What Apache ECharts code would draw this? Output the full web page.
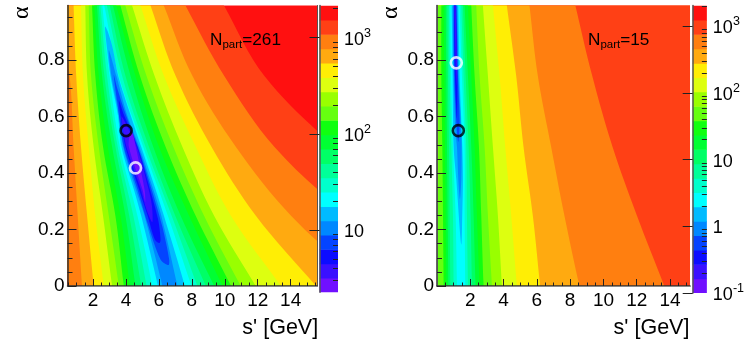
<!DOCTYPE html>
<html><head><meta charset="utf-8">
<style>html,body{margin:0;padding:0;background:#fff}#c{width:747px;height:349px}</style>
<script src="https://cdn.jsdelivr.net/npm/echarts@6/dist/echarts.min.js"></script>
</head><body><div id="c"></div>
<script>
const bandColors = ['#ff1010','#ff4015','#ff7f10','#ffaa10','#ffee05','#ddff10','#99ff00','#66ff10','#10ff10','#00ff33','#00ff66','#00ff99','#00ffcc','#00ffff','#00bbff','#0088ff','#0444ff','#0c0cff','#3a10ff','#7010ff'];
const knotAlpha = [1.1, 0.991, 0.743, 0.492, 0.248, 0, -0.1];

// panel 1: N_part = 261. Lower / upper s' of each contour level at the alpha knots
const lowS1 = [
 [-5,-5,-5,-5,-5,-5,-5],
 [-1,-0.8,-0.6,-0.2,0.21,0.48,0.6],
 [-0.4,-0.09,0.58,0.82,1.07,1.33,1.45],
 [0.75,0.82,0.98,1.27,1.64,2.04,2.2],
 [1.2,1.27,1.39,1.74,2.14,2.65,2.85],
 [1.5,1.53,1.64,2.04,2.61,3.16,3.4],
 [1.7,1.74,1.88,2.35,2.96,3.57,3.8],
 [1.85,1.94,2.14,2.61,3.36,3.87,4.1],
 [2.0,2.08,2.35,2.9,3.67,4.24,4.5],
 [2.1,2.24,2.55,3.16,3.97,4.58,4.85],
 [2.2,2.35,2.69,3.36,4.2,4.93,5.2],
 [2.3,2.45,2.85,3.5,4.45,5.25,5.5],
 [2.4,2.57,3.0,3.63,4.7,5.6,5.9]
];
const highS1 = [
 [9.0,9.97,12.41,16.68,21.76,26.85,29],
 [6.7,7.63,9.97,13.02,17.49,22.78,25],
 [5.6,6.31,8.04,10.68,14.04,18.71,20.6],
 [4.9,5.5,7.02,9.2,11.9,15.54,17],
 [4.3,4.89,6.31,8.24,10.38,13.41,14.6],
 [3.8,4.38,5.74,7.43,9.36,11.88,12.9],
 [3.45,3.97,5.25,6.88,8.75,10.97,11.9],
 [3.2,3.67,4.85,6.41,8.24,10.38,11.2],
 [2.95,3.42,4.58,6.01,7.84,9.87,10.7],
 [2.8,3.22,4.28,5.66,7.33,9.36,10.2],
 [2.65,3.02,3.97,5.4,7.0,8.85,9.6],
 [2.5,2.85,3.77,5.19,6.78,8.34,9.0],
 [2.35,2.69,3.57,5.05,6.55,7.98,8.6]
];
// inner contours of panel 1, as [s', alpha] outlines
const inner1 = [
 [[2.73,.918],[2.85,.841],[3.06,.743],[3.51,.605],[3.73,.492],[4.48,.342],[4.93,.248],[5.94,0],[6.2,-.1],[7.9,-.1],[7.57,0],[6.31,.248],[5.8,.342],[4.93,.492],[4.28,.605],[3.53,.743],[3.2,.841],[2.9,.9]],
 [[2.96,.835],[3.12,.743],[3.57,.605],[3.83,.492],[4.6,.342],[5.13,.248],[6.21,0],[6.5,-.1],[7.4,-.1],[7.12,0],[6.15,.248],[5.66,.342],[4.81,.492],[4.07,.605],[3.42,.743]],
 [[3.26,.747],[3.47,.652],[3.87,.492],[4.7,.342],[5.3,.224],[6.1,.094],[6.58,.074],[6.62,.095],[6.2,.212],[5.56,.342],[4.74,.492],[4.0,.605],[3.47,.7]],
 [[3.57,.658],[3.67,.605],[3.97,.492],[4.8,.342],[5.32,.248],[5.75,.165],[6.03,.152],[6.1,.165],[5.95,.236],[5.46,.342],[4.7,.492],[3.88,.605]],
 [[3.72,.6],[4.03,.492],[4.9,.342],[5.25,.27],[5.6,.226],[5.58,.283],[5.38,.342],[4.66,.492],[3.95,.58]],
 [[4.26,.542],[4.18,.492],[5.0,.342],[5.17,.297],[5.13,.342],[4.6,.492],[4.4,.54]]
];

// panel 2: N_part = 15
const lowS2 = [
 [-5,-5,-5,-5,-5,-5,-5],
 [-5,-5,-5,-5,-5,-5,-5],
 [-5,-5,-5,-5,-5,-5,-5],
 [-5,-5,-5,-5,-5,-5,-5],
 [-5,-5,-5,-5,-5,-5,-5],
 [-5,-5,-5,-5,-5,-5,-5],
 [.06,.06,.06,.08,.06,.04,.04],
 [.26,.26,.26,.32,.36,.4,.42],
 [.38,.4,.44,.48,.52,.56,.58],
 [.5,.52,.56,.6,.64,.68,.7],
 [.6,.62,.66,.72,.76,.8,.82],
 [.7,.72,.76,.86,.96,1.0,1.02],
 [.78,.8,.84,.96,1.12,1.2,1.24]
];
const highS2 = [
 [40,40,40,40,40,40,40],
 [7.9,8.32,9.33,10.55,12.02,13.66,14.3],
 [5.35,5.56,6.06,6.86,7.66,8.56,9.0],
 [3.97,4.2,4.76,5.2,5.76,6.2,6.4],
 [3.2,3.36,3.76,4.1,4.46,4.8,4.95],
 [2.65,2.76,3.06,3.36,3.66,3.9,4.0],
 [2.3,2.36,2.56,2.86,3.06,3.3,3.4],
 [2.0,2.06,2.26,2.52,2.66,2.8,2.9],
 [1.8,1.86,2.06,2.26,2.4,2.56,2.65],
 [1.6,1.66,1.86,2.06,2.2,2.32,2.4],
 [1.5,1.56,1.72,1.9,2.02,2.1,2.15],
 [1.4,1.46,1.6,1.76,1.8,1.86,1.9],
 [1.3,1.36,1.5,1.66,1.66,1.7,1.72]
];
const inner2 = [
 [[.85,1.1],[.88,.991],[.94,.743],[1.0,.492],[1.16,.378],[1.46,.147],[1.52,.26],[1.56,.378],[1.52,.492],[1.36,.743],[1.28,.991],[1.25,1.1]],
 [[.92,1.1],[.94,.991],[1.0,.743],[1.1,.55],[1.2,.492],[1.28,.378],[1.38,.308],[1.46,.378],[1.48,.492],[1.46,.55],[1.3,.743],[1.22,.991],[1.2,1.1]],
 [[.98,1.1],[1.0,.991],[1.04,.743],[1.16,.582],[1.28,.511],[1.36,.582],[1.26,.743],[1.18,.991],[1.16,1.1]],
 [[1.02,1.1],[1.02,.991],[1.08,.743],[1.2,.594],[1.22,.743],[1.14,.991],[1.12,1.1]],
 [[1.04,1.1],[1.04,.991],[1.12,.794],[1.16,.711],[1.2,.794],[1.12,.991],[1.1,1.1]]
];

// colour scales: level edges of the palette
const levels1 = [2.27,3.2,4.51,6.35,8.93,12.6,17.7,25,35.2,49.5,69.8,98.4,139,195,275,387,546,769,1084,1528,2153];
const levels2 = [0.1,0.164,0.27,0.444,0.729,1.2,1.97,3.24,5.31,8.73,14.4,23.6,38.7,63.7,105,172,282,465,763,1253,2061];
const majorZ1 = [10,100,1000];
const minorZ1 = [3,4,5,6,7,8,9,20,30,40,50,60,70,80,90,200,300,400,500,600,700,800,900,2000];
const majorZ2 = [0.1,1,10,100,1000];
const minorZ2 = [0.2,0.3,0.4,0.5,0.6,0.7,0.8,0.9,2,3,4,5,6,7,8,9,20,30,40,50,60,70,80,90,200,300,400,500,600,700,800,900,2000];

const sMajor = [2,4,6,8,10,12,14];
const sMinor1 = [0.5,1,1.5,2.5,3,3.5,4.5,5,5.5,6.5,7,7.5,8.5,9,9.5,10.5,11,11.5,12.5,13,13.5,14.5,15,15.5];
const sMinor2 = [0.5,1,1.5,2.5,3,3.5,4.5,5,5.5,6.5,7,7.5,8.5,9,9.5,10.5,11,11.5,12.5,13,13.5,14.5,15];
const aMajor = [0,0.2,0.4,0.6,0.8];
const aMinor = [.05,.1,.15,.25,.3,.35,.45,.5,.55,.65,.7,.75,.85,.9,.95];
const blackPts1 = [[4.01,0.55]], whitePts1 = [[4.58,0.418]];
const blackPts2 = [[1.28,0.55]], whitePts2 = [[1.16,0.79]];

const FONT = '"Liberation Sans", Arial, sans-serif';
const grids=[], xAxes=[], yAxes=[], series=[];
function lineAxis(list,g,pos,min,max,extra){ list.push(Object.assign({type:'value',gridIndex:g,position:pos,min,max,z:10,splitLine:{show:false},axisLine:{show:false},axisTick:{show:false},axisLabel:{show:false}},extra)); return list.length-1; }
function tickStyle(len,vals){ return {show:true,inside:true,length:len,customValues:vals,lineStyle:{color:'#222',width:1}}; }

function panel(box,xmin,xmax,ymax,lowS,highS,inner,sMinor,black,white,bgIdx){
  const g=grids.length; grids.push(box);
  const x0=lineAxis(xAxes,g,'bottom',xmin,xmax,{
    axisLine:{show:true,onZero:false,lineStyle:{color:'#333',width:1.5}},
    axisTick:tickStyle(7,sMajor),
    axisLabel:{show:true,customValues:sMajor,color:'#000',fontSize:19,fontFamily:FONT,margin:5},
    name:"s' [GeV]",nameLocation:'middle',nameGap:31,nameTextStyle:{color:'#000',fontSize:21.5,fontFamily:FONT,padding:[0,0,0,176]}});
  lineAxis(xAxes,g,'bottom',xmin,xmax,{axisTick:tickStyle(3.5,sMinor)});
  lineAxis(xAxes,g,'top',xmin,xmax,{axisLine:{show:true,lineStyle:{color:'#888',width:1}}});
  const y0=lineAxis(yAxes,g,'left',0,ymax,{
    axisLine:{show:true,onZero:false,lineStyle:{color:'#333',width:1.5}},
    axisTick:tickStyle(9,aMajor),
    axisLabel:{show:true,customValues:aMajor,color:'#000',fontSize:19,fontFamily:FONT,margin:3},
    name:'α',nameLocation:'middle',nameGap:34,nameTextStyle:{color:'#000',fontSize:24,fontFamily:'"Liberation Serif",serif',padding:[0,0,0,266]}});
  lineAxis(yAxes,g,'left',0,ymax,{axisTick:tickStyle(5,aMinor)});
  lineAxis(yAxes,g,'right',0,ymax,{axisLine:{show:true,lineStyle:{color:'#555',width:1}}});
  const items=[];
  items.push({pts:[[-5,1.2],[40,1.2],[40,-.2],[-5,-.2]],c:bandColors[bgIdx],smooth:0});
  lowS.forEach((lo,i)=>{
    const pts=[];
    knotAlpha.forEach((a,k)=>pts.push([lo[k],a]));
    for(let k=knotAlpha.length-1;k>=0;k--)pts.push([highS[i][k],knotAlpha[k]]);
    items.push({pts,c:bandColors[i+1],smooth:0.35});
  });
  inner.forEach((o,i)=>items.push({pts:o,c:bandColors[lowS.length+i+1],smooth:0.3}));
  series.push({type:'custom',xAxisIndex:x0,yAxisIndex:y0,clip:true,z:2,silent:true,coordinateSystem:'cartesian2d',
    data:items.map((_,i)=>[i]),
    encode:{x:[],y:[]},
    renderItem:(p,api)=>{const it=items[p.dataIndex];
      return {type:'polygon',shape:{points:it.pts.map(q=>api.coord(q)),smooth:it.smooth},style:{fill:it.c,stroke:null}};}});
  const ring=(d,col)=>series.push({type:'scatter',xAxisIndex:x0,yAxisIndex:y0,data:d,symbol:'circle',symbolSize:11,z:5,silent:true,
    itemStyle:{color:'rgba(0,0,0,0)',borderColor:col,borderWidth:2.6}});
  ring(black,'#000'); ring(white,'#fff');
}
function colorbar(box,levels,major,minor){
  const g=grids.length; grids.push(box);
  const lo=levels[0],hi=levels[levels.length-1];
  const x0=lineAxis(xAxes,g,'bottom',0,1,{});
  const sup={1000:'3',100:'2',0.1:'-1'};
  const y0=yAxes.length;
  yAxes.push({type:'log',logBase:10,gridIndex:g,position:'right',min:lo,max:hi,z:10,splitLine:{show:false},
    axisLine:{show:true,lineStyle:{color:'#555',width:1.5}},
    axisTick:tickStyle(10,major),
    axisLabel:{show:true,customValues:major,margin:6,color:'#000',fontFamily:FONT,
      formatter:v=>{const k=+v; return sup[k]?`{a|10}{b|${sup[k]}}`:`{a|${k}}`;},
      rich:{a:{fontSize:18,fontFamily:FONT,color:'#000',lineHeight:22,verticalAlign:'bottom'},b:{fontSize:12.5,fontFamily:FONT,color:'#000',verticalAlign:'top',lineHeight:22,padding:[0,0,4,0]}}}});
  yAxes.push({type:'log',logBase:10,gridIndex:g,position:'right',min:lo,max:hi,z:10,splitLine:{show:false},axisLine:{show:false},axisLabel:{show:false},axisTick:tickStyle(5,minor)});
  series.push({type:'custom',xAxisIndex:x0,yAxisIndex:y0,clip:true,z:2,silent:true,coordinateSystem:'cartesian2d',
    data:levels.slice(0,-1).map((v,i)=>[i]),encode:{x:[],y:[]},
    renderItem:(p,api)=>{const i=p.dataIndex;const a=api.coord([0,levels[i]]),b=api.coord([1,levels[i+1]]);
      return {type:'rect',shape:{x:a[0],y:b[1],width:b[0]-a[0],height:a[1]-b[1]+0.6},style:{fill:bandColors[19-i],stroke:null}};}});
}
panel({left:67.5,top:5.5,width:249.5,height:280.5},0.45,15.6,0.993,lowS1,highS1,inner1,sMinor1,blackPts1,whitePts1,0);
colorbar({left:319.5,top:5.5,width:18.5,height:286.8},levels1,majorZ1,minorZ1);
panel({left:437,top:5.5,width:253,height:280.5},0,15.2,0.993,lowS2,highS2,inner2,sMinor2,blackPts2,whitePts2,1);
colorbar({left:692.7,top:5.5,width:16.8,height:287.5},levels2,majorZ2,minorZ2);

function note(x,txt){return {type:'text',left:x,top:30,z:20,style:{text:`{a|N}{b|part}{a|=${txt}}`,rich:{a:{fontSize:17.2,fontFamily:FONT,fill:'#000',lineHeight:22},b:{fontSize:11.5,fontFamily:FONT,fill:'#000',lineHeight:22,padding:[9,0,0,0]}}}};}
const chart=echarts.init(document.getElementById('c'),null,{renderer:'canvas'});
chart.setOption({animation:false,backgroundColor:'#fff',grid:grids.map(b=>Object.assign({containLabel:false,show:false},b)),xAxis:xAxes,yAxis:yAxes,series,graphic:[note(210,'261'),note(588,'15')]});
</script></body></html>
